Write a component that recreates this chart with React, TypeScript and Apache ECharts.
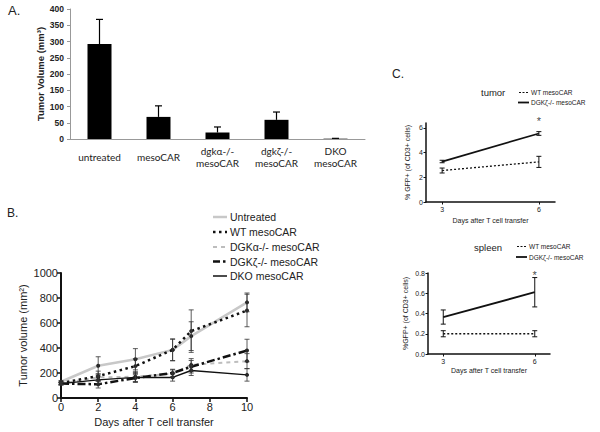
import React, { useEffect, useRef } from "react";
import * as echarts from "echarts";

// ---- Panel A ----
const aCategories = ["untreated", "mesoCAR", "dgkα-/-\nmesoCAR", "dgkζ-/-\nmesoCAR", "DKO\nmesoCAR"];
const aValues = [292, 68, 20, 59, 1];
const aErrors = [76, 34, 17, 24, 1];

// ---- Panel B ----
const bDays = [0, 2, 4, 6, 7, 10];
const bNames = ["Untreated", "WT mesoCAR", "DGKα-/- mesoCAR", "DGKζ-/- mesoCAR", "DKO mesoCAR"];
const bUntreated = [130, 258, 310, 385, 495, 765];
const bWT = [120, 175, 255, 385, 535, 700];
const bDGKa = [115, 165, 170, 195, 265, 295];
const bDGKz = [115, 110, 160, 200, 250, 380];
const bDKO = [115, 145, 165, 165, 220, 185];
const bUntreatedErr = [10, 72, 85, 88, 115, 75];
const bWTErr = [10, 40, 60, 85, 170, 130];
const bDGKaErr = [10, 30, 40, 30, 50, 60];
const bDGKzErr = [10, 30, 30, 30, 50, 90];
const bDKOErr = [10, 30, 40, 30, 40, 50];

// ---- Panel C ----
const cDays = [3, 6];
const cNames = ["WT mesoCAR", "DGKζ-/- mesoCAR"];
const tumorWT = [2.55, 3.25];
const tumorWTErr = [0.2, 0.45];
const tumorZ = [3.28, 5.55];
const tumorZErr = [0.1, 0.15];
const spleenWT = [0.2, 0.2];
const spleenWTErr = [0.03, 0.03];
const spleenZ = [0.365, 0.61];
const spleenZErr = [0.07, 0.145];

const ARIAL = "Liberation Sans, Arial, sans-serif";

function errRender(capHalf: number, color: string, lw: number, upOnly: boolean) {
  return (params: any, api: any) => {
    const x = api.value(0);
    const y = api.value(1);
    const e = api.value(2);
    const top = api.coord([x, y + e]);
    const bot = api.coord([x, upOnly ? y : y - e]);
    const style = { stroke: color, lineWidth: lw, fill: "none" };
    const children: any[] = [
      { type: "line", shape: { x1: top[0], y1: top[1], x2: bot[0], y2: bot[1] }, style },
      { type: "line", shape: { x1: top[0] - capHalf, y1: top[1], x2: top[0] + capHalf, y2: top[1] }, style },
    ];
    if (!upOnly) {
      children.push({ type: "line", shape: { x1: bot[0] - capHalf, y1: bot[1], x2: bot[0] + capHalf, y2: bot[1] }, style });
    }
    return { type: "group", children };
  };
}

const legendLine = (x: number, y: number, w: number, stroke: string, lw: number, dash: any) => ({
  type: "line",
  shape: { x1: x, y1: y, x2: x + w, y2: y },
  style: { stroke, lineWidth: lw, lineDash: dash },
});
const txt = (x: number, y: number, text: string, font: string, extra: any = {}) => ({
  type: "text",
  x,
  y,
  style: { text, font, fill: "#222", textVerticalAlign: "middle", verticalAlign: "middle", ...extra },
});

export default function App() {
  const ref = useRef<HTMLDivElement>(null);
  useEffect(() => {
    if (!ref.current) return;
    const chart = echarts.init(ref.current, undefined, { renderer: "svg" });

    const bSeriesData = [bUntreated, bWT, bDGKa, bDGKz, bDKO];
    const bErrData = [bUntreatedErr, bWTErr, bDGKaErr, bDGKzErr, bDKOErr];
    const bStyles = [
      { color: "#c8c8c8", width: 2.5, type: "solid" as any },
      { color: "#111", width: 2.5, type: [2.5, 3.5] },
      { color: "#bdbdbd", width: 2, type: [4, 4] },
      { color: "#111", width: 2.5, type: [8, 3, 2.5, 3] },
      { color: "#111", width: 1.5, type: "solid" as any },
    ];
    const bZ = [1, 3, 2, 4, 5];

    const bLines = bNames.map((n, i) => ({
      type: "line",
      name: n,
      xAxisIndex: 1,
      yAxisIndex: 1,
      data: bDays.map((d, j) => [d, bSeriesData[i][j]]),
      symbol: "circle",
      symbolSize: 4,
      itemStyle: { color: "#222" },
      lineStyle: bStyles[i],
      z: bZ[i],
    }));
    const bErr = {
      type: "custom",
      xAxisIndex: 1,
      yAxisIndex: 1,
      renderItem: errRender(2.5, "#333", 0.8, false),
      data: bSeriesData.flatMap((s, i) => bDays.map((d, j) => [d, s[j], bErrData[i][j]])),
      z: 6,
    };

    const cLine = (xi: number, name: string, vals: number[], dashed: boolean) => ({
      type: "line",
      name,
      xAxisIndex: xi,
      yAxisIndex: xi,
      data: cDays.map((d, j) => [d, vals[j]]),
      symbol: "none",
      lineStyle: { color: "#111", width: dashed ? 1.3 : 1.8, type: dashed ? [2, 2] : "solid" },
    });
    const cErr = (xi: number, vals: number[][], errs: number[][]) => ({
      type: "custom",
      xAxisIndex: xi,
      yAxisIndex: xi,
      renderItem: errRender(2.5, "#111", 1, false),
      data: vals.flatMap((v, i) => cDays.map((d, j) => [d, v[j], errs[i][j]])),
    });
    const star = (xi: number, y: number, dist: number) => ({
      type: "scatter",
      xAxisIndex: xi,
      yAxisIndex: xi,
      data: [[6, y]],
      symbolSize: 0,
      label: { show: true, formatter: "*", position: "top", distance: dist, fontSize: 11, fontFamily: ARIAL, color: "#111" },
    });

    const cAxisX = (gi: number) => ({
      type: "value",
      gridIndex: gi,
      min: 2.5,
      max: 6.5,
      name: "Days after T cell transfer",
      nameLocation: "middle",
      nameGap: gi === 2 ? 15 : 13,
      nameTextStyle: { fontSize: 7, fontFamily: ARIAL, color: "#222" },
      axisLine: { lineStyle: { color: "#111", width: 1.5 } },
      axisTick: { length: 2.5, customValues: [3, 6], lineStyle: { color: "#111" } },
      axisLabel: { customValues: [3, 6], fontSize: 7, fontFamily: ARIAL, color: "#222", margin: 4 },
      splitLine: { show: false },
    });

    const option: any = {
      animation: false,
      grid: [
        { left: 70, top: 9, width: 295, height: 130 },
        { left: 61, top: 273, width: 186, height: 125 },
        { left: 426, top: 123, width: 129, height: 79 },
        { left: 428, top: 273, width: 122, height: 81 },
      ],
      xAxis: [
        {
          type: "category",
          gridIndex: 0,
          data: aCategories,
          axisLine: { lineStyle: { color: "#999", width: 1 } },
          axisTick: { show: false },
          axisLabel: {
            fontSize: 10,
            fontFamily: "Lato, Open Sans, sans-serif",
            color: "#222",
            margin: 18,
            verticalAlign: "middle",
            lineHeight: 11.5,
            interval: 0,
          },
        },
        {
          type: "value",
          gridIndex: 1,
          min: 0,
          max: 10,
          interval: 2,
          name: "Days after T cell transfer",
          nameLocation: "middle",
          nameGap: 18,
          nameTextStyle: { fontSize: 11, fontFamily: ARIAL, color: "#222" },
          axisLine: { lineStyle: { color: "#111", width: 2 } },
          axisTick: { length: 4, lineStyle: { color: "#111", width: 1.5 } },
          axisLabel: { fontSize: 11, fontFamily: ARIAL, color: "#222", margin: 3 },
          splitLine: { show: false },
        },
        cAxisX(2),
        cAxisX(3),
      ],
      yAxis: [
        {
          type: "value",
          gridIndex: 0,
          min: 0,
          max: 400,
          interval: 50,
          name: "Tumor Volume (mm³)",
          nameLocation: "middle",
          nameGap: 25,
          nameTextStyle: { fontSize: 9.5, fontWeight: "bold", fontFamily: ARIAL, color: "#222" },
          axisLine: { show: true, lineStyle: { color: "#999", width: 1 } },
          axisTick: { show: true, length: 3, lineStyle: { color: "#999" } },
          axisLabel: { fontSize: 8.5, fontWeight: "bold", fontFamily: ARIAL, color: "#222", margin: 6 },
          splitLine: { show: false },
        },
        {
          type: "value",
          gridIndex: 1,
          min: 0,
          max: 1000,
          interval: 200,
          name: "Tumor volume (mm²)",
          nameLocation: "middle",
          nameGap: 33,
          nameTextStyle: { fontSize: 11, fontFamily: ARIAL, color: "#222" },
          axisLine: { show: true, lineStyle: { color: "#111", width: 2 } },
          axisTick: { show: true, length: 4, lineStyle: { color: "#111", width: 1.5 } },
          axisLabel: { fontSize: 11, fontFamily: ARIAL, color: "#222", margin: 3, formatter: (v: number) => String(v) },
          splitLine: { show: false },
        },
        {
          type: "value",
          gridIndex: 2,
          min: 0,
          max: 6.4,
          name: "% GFP+ (of CD3+ cells)",
          nameLocation: "middle",
          nameGap: 15,
          nameTextStyle: { fontSize: 7, fontFamily: ARIAL, color: "#222" },
          axisLine: { show: true, lineStyle: { color: "#111", width: 1.5 } },
          axisTick: { show: true, length: 2.5, customValues: [0, 2, 4, 6], lineStyle: { color: "#111" } },
          axisLabel: { customValues: [0, 2, 4, 6], fontSize: 7, fontFamily: ARIAL, color: "#222", margin: 3 },
          splitLine: { show: false },
        },
        {
          type: "value",
          gridIndex: 3,
          min: 0,
          max: 0.8,
          interval: 0.2,
          name: "%GFP+ (of CD3+ cells)",
          nameLocation: "middle",
          nameGap: 19,
          nameTextStyle: { fontSize: 7, fontFamily: ARIAL, color: "#222" },
          axisLine: { show: true, lineStyle: { color: "#111", width: 1.5 } },
          axisTick: { show: true, length: 2.5, lineStyle: { color: "#111" } },
          axisLabel: { fontSize: 7, fontFamily: ARIAL, color: "#222", margin: 3, formatter: (v: number) => v.toFixed(1) },
          splitLine: { show: false },
        },
      ],
      series: [
        {
          type: "bar",
          xAxisIndex: 0,
          yAxisIndex: 0,
          data: aValues,
          barWidth: 24,
          itemStyle: { color: "#000" },
        },
        {
          type: "custom",
          xAxisIndex: 0,
          yAxisIndex: 0,
          renderItem: errRender(3.5, "#000", 1.2, true),
          data: aValues.map((v, i) => [i, v, aErrors[i]]),
          z: 3,
        },
        ...bLines,
        bErr,
        cLine(2, cNames[0], tumorWT, true),
        cLine(2, cNames[1], tumorZ, false),
        cErr(2, [tumorWT, tumorZ], [tumorWTErr, tumorZErr]),
        star(2, tumorZ[1] + tumorZErr[1], 5),
        cLine(3, cNames[0], spleenWT, true),
        cLine(3, cNames[1], spleenZ, false),
        cErr(3, [spleenWT, spleenZ], [spleenWTErr, spleenZErr]),
        star(3, spleenZ[1] + spleenZErr[1], -3),
      ],
      graphic: [
        txt(8, 10, "A.", `13px ${ARIAL}`),
        txt(7, 213, "B.", `12px ${ARIAL}`),
        txt(392, 74, "C.", `12px ${ARIAL}`),
        // Legend B
        legendLine(213, 217, 14, "#c8c8c8", 2.5, null),
        legendLine(213, 232, 14, "#111", 2.5, [2.5, 3.5]),
        legendLine(213, 247, 14, "#bdbdbd", 2, [4, 4]),
        legendLine(213, 261.5, 14, "#111", 2.5, [7, 3, 2.5, 3]),
        legendLine(213, 276, 14, "#111", 1.5, null),
        ...bNames.map((n, i) => txt(230, [217, 232, 247, 261.5, 276][i], n, `10.5px ${ARIAL}`)),
        // Panel C tumor
        txt(481, 92, "tumor", `9.5px ${ARIAL}`),
        legendLine(519, 92.5, 10, "#111", 1, [2, 1.5]),
        legendLine(518, 102.5, 11, "#111", 1.8, null),
        txt(531, 92.5, cNames[0], `6.5px ${ARIAL}`),
        txt(531, 102.5, cNames[1], `6.5px ${ARIAL}`),
        // Panel C spleen
        txt(474, 247, "spleen", `9.5px ${ARIAL}`),
        legendLine(517, 246.5, 10, "#111", 1, [2, 1.5]),
        legendLine(516, 257, 11, "#111", 1.8, null),
        txt(529, 246.5, cNames[0], `6.5px ${ARIAL}`),
        txt(529, 257, cNames[1], `6.5px ${ARIAL}`),
      ],
    };
    chart.setOption(option);
    return () => chart.dispose();
  }, []);
  return <div ref={ref} style={{ position: "absolute", left: 0, top: 0, width: 600, height: 432, background: "#fff" }} />;
}
